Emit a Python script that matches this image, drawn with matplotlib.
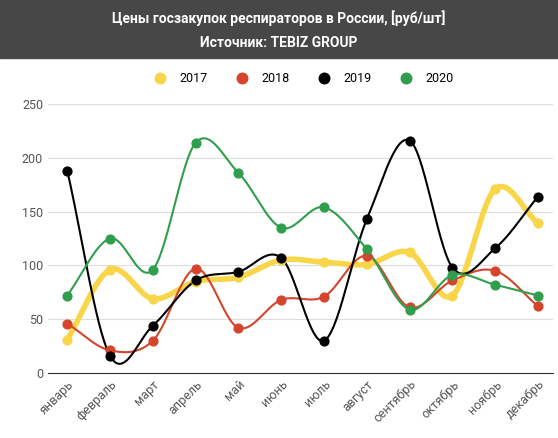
import numpy as np
import matplotlib.pyplot as plt

plt.rcParams['font.family'] = ['Roboto', 'DejaVu Sans']

months = ['январь', 'февраль', 'март', 'апрель', 'май', 'июнь', 'июль',
          'август', 'сентябрь', 'октябрь', 'ноябрь', 'декабрь']
years = ['2017', '2018', '2019', '2020']
v2017 = [31, 96, 69, 85, 89, 105, 103, 101, 112, 72, 171, 139]
v2018 = [46, 21, 30, 97, 42, 68, 71, 109, 61, 86, 95, 62]
v2019 = [188, 16, 44, 86, 94, 107, 30, 143, 216, 98, 116, 164]
v2020 = [72, 125, 96, 214, 186, 135, 154, 115, 59, 91, 82, 72]
colors = ['#f9d54a', '#d4452c', '#000000', '#2f9e4d']
widths = [4, 1.5, 1.5, 1.5]


def smooth(y, n=30):
    # catmull-rom curve through the points
    y = np.asarray(y, float)
    p = np.concatenate([[2 * y[0] - y[1]], y, [2 * y[-1] - y[-2]]])
    xs, ys = [], []
    t = np.linspace(0, 1, n, endpoint=False)
    for i in range(len(y) - 1):
        p0, p1, p2, p3 = p[i], p[i + 1], p[i + 2], p[i + 3]
        c = 0.5 * ((2 * p1) + (-p0 + p2) * t + (2 * p0 - 5 * p1 + 4 * p2 - p3) * t ** 2
                   + (-p0 + 3 * p1 - 3 * p2 + p3) * t ** 3)
        xs.append(i + t)
        ys.append(c)
    xs.append([len(y) - 1])
    ys.append([y[-1]])
    return np.concatenate(xs), np.concatenate(ys)


fig = plt.figure(figsize=(5.58, 4.38), dpi=100)
fig.patches.append(plt.Rectangle((0, 1 - 58 / 438), 1, 58 / 438, transform=fig.transFigure,
                                 color='#474747', zorder=0))
fig.text(0.5, 1 - 18 / 438, 'Цены госзакупок респираторов в России, [руб/шт]',
         ha='center', va='center', color='white', fontsize=10, fontweight='bold')
fig.text(0.5, 1 - 43 / 438, 'Источник: TEBIZ GROUP',
         ha='center', va='center', color='white', fontsize=10, fontweight='bold')

ax = fig.add_axes([48 / 558, 65 / 438, 505 / 558, 269 / 438])
x = np.arange(len(months))
for vals, lab, c, w in zip([v2017, v2018, v2019, v2020], years, colors, widths):
    sx, sy = smooth(vals)
    ax.plot(sx, sy, color=c, lw=w, zorder=3)
    ax.scatter(x, vals, color=c, s=40, zorder=4, label=lab)

ax.set_xlim(-0.45, 11.35)
ax.set_ylim(0, 250)
ax.set_yticks(range(0, 251, 50))
ax.set_xticks(x)
ax.set_xticklabels(months, rotation=45, ha='right', rotation_mode='anchor')
ax.tick_params(colors='#555555', labelsize=9, length=0)
ax.grid(axis='y', color='#dddddd', lw=0.8)
for s in ['top', 'right', 'left']:
    ax.spines[s].set_visible(False)
ax.spines['bottom'].set_color('#333333')
ax.legend(loc='lower center', bbox_to_anchor=(0.5, 1.03), ncol=4, frameon=False,
          fontsize=9, handletextpad=0.5, columnspacing=1.8, markerscale=1.2)

fig.savefig('out.png', dpi=100)
